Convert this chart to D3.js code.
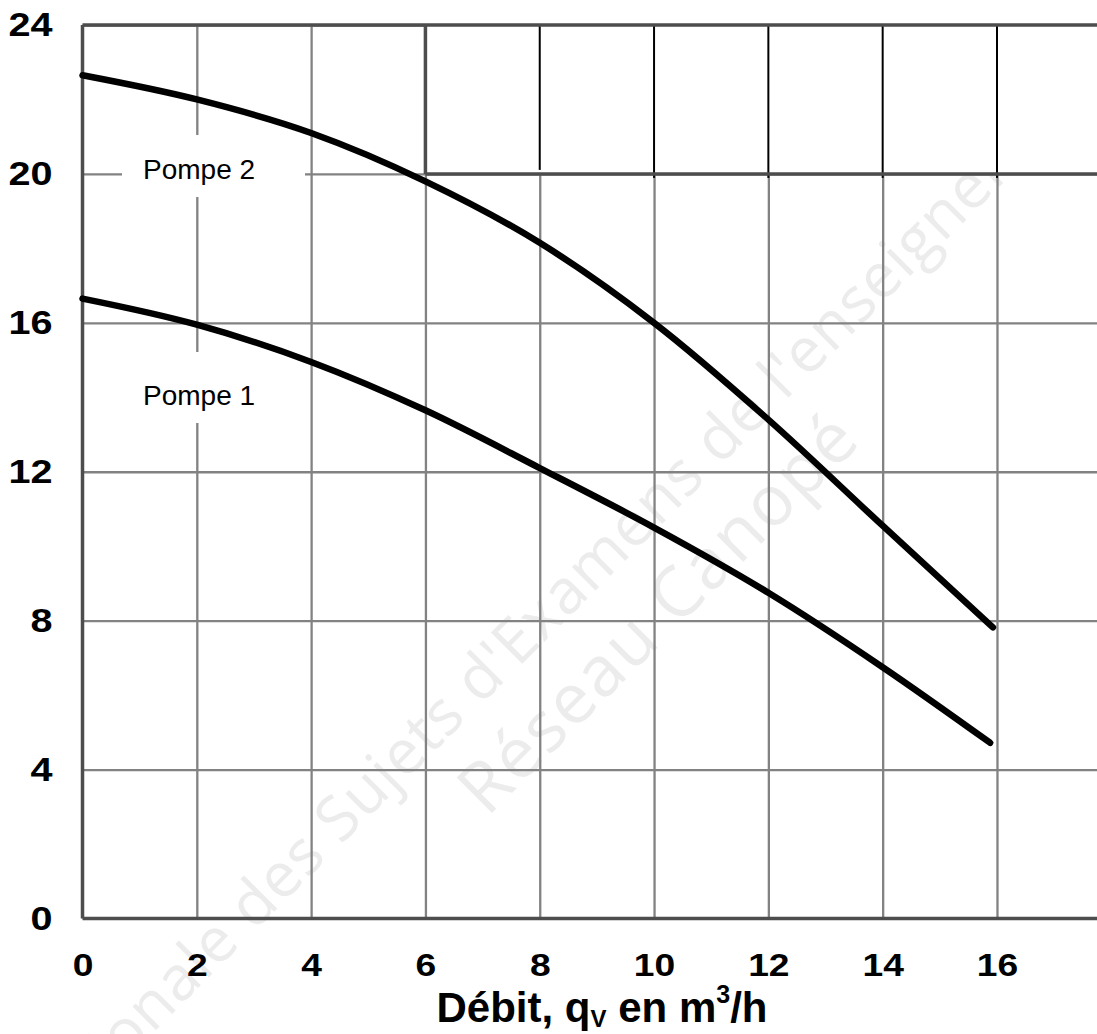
<!DOCTYPE html>
<html>
<head>
<meta charset="utf-8">
<script src="https://cdn.jsdelivr.net/npm/d3@7"></script>
<style>
  body { margin: 0; background: #fff; }
  svg { display: block; }
</style>
</head>
<body>
<svg id="chart"></svg>
<script>
// valeurs
var xTicks = [0, 2, 4, 6, 8, 10, 12, 14, 16];
var yTicks = [0, 4, 8, 12, 16, 20, 24];
var pompe1Debit = [0, 2, 4, 6, 8, 10, 12, 14, 15.88];
var pompe1Hmt = [16.65, 15.95, 14.95, 13.65, 12.1, 10.5, 8.75, 6.75, 4.72];
var pompe2Debit = [0, 2, 4, 6, 8, 10, 12, 14, 15.93];
var pompe2Hmt = [22.65, 22.0, 21.1, 19.8, 18.15, 16.0, 13.4, 10.55, 7.82];
var seriesNames = ["Pompe 1", "Pompe 2"];
var blackTicks = [8, 10, 12, 14, 16]; // traits noirs du cadre en haut a droite
var watermark = ["Base Nationale des Sujets d'Examens de l'enseignement professionnel", "Réseau Canopé"];

var W = 1097, H = 1034;

var svg = d3.select("#chart").attr("width", W).attr("height", H);
svg.append("rect").attr("width", W).attr("height", H).attr("fill", "#fff");

var x = d3.scaleLinear().domain([0, 17.75]).range([82.5, W]);
var y = d3.scaleLinear().domain([0, 24]).range([918.5, 25]);

// filigrane
var wmPos = [[666, 520], [675, 630]];
var wmSize = [62, 70];
svg.append("g").selectAll("text")
  .data(watermark)
  .enter().append("text")
  .attr("transform", function (d, i) { return "translate(" + wmPos[i][0] + "," + wmPos[i][1] + ") rotate(-45)"; })
  .attr("text-anchor", "middle")
  .style("font-family", "'Open Sans', sans-serif")
  .style("font-size", function (d, i) { return wmSize[i] + "px"; })
  .style("letter-spacing", function (d, i) { return i ? "2px" : "1px"; })
  .attr("fill", "#ececec")
  .text(function (d) { return d; });

var gridColor = "#828282", darkColor = "#4d4d4d";

// grille verticale
var gx = svg.append("g")
  .attr("transform", "translate(0," + y(0) + ")")
  .call(d3.axisBottom(x).tickValues(xTicks.slice(1)).tickSize(-(y(0) - y(24))).tickFormat(""));
gx.select(".domain").remove();
gx.selectAll("line").attr("stroke", gridColor).attr("stroke-width", 2.3);

// grille horizontale
var gy = svg.append("g")
  .attr("transform", "translate(" + x(0) + ",0)")
  .call(d3.axisLeft(y).tickValues(yTicks.slice(1)).tickSize(-(W - x(0))).tickFormat(""));
gy.select(".domain").remove();
gy.selectAll("line").attr("stroke", gridColor).attr("stroke-width", 2.3);

// cadre du haut (entre 20 et 24, a partir de 6)
svg.append("rect")
  .attr("x", x(6)).attr("y", y(24))
  .attr("width", W - x(6)).attr("height", y(20) - y(24))
  .attr("fill", "#fff");

svg.append("g").selectAll("line")
  .data(blackTicks)
  .enter().append("line")
  .attr("x1", function (d) { return x(d); })
  .attr("x2", function (d) { return x(d); })
  .attr("y1", y(24))
  .attr("y2", function (d, i) { return i == 0 ? y(20) - 4 : y(20) + 4; })
  .attr("stroke", "#000")
  .attr("stroke-width", 2);

var dark = svg.append("g").attr("stroke", darkColor).attr("stroke-width", 3.5);
dark.append("line").attr("x1", x(0)).attr("x2", W).attr("y1", y(24)).attr("y2", y(24));
dark.append("line").attr("x1", x(6)).attr("x2", W).attr("y1", y(20)).attr("y2", y(20));
dark.append("line").attr("x1", x(6)).attr("x2", x(6)).attr("y1", y(24)).attr("y2", y(20));
dark.append("line").attr("x1", x(0)).attr("x2", x(0)).attr("y1", y(24)).attr("y2", y(0));
dark.append("line").attr("x1", x(0)).attr("x2", W).attr("y1", y(0)).attr("y2", y(0));

// etiquettes des courbes (cases blanches)
var labelBox = [
  { left: 125, top: 352, w: 175, h: 71, tx: 143, ty: 405 },
  { left: 122, top: 135, w: 183, h: 62, tx: 143, ty: 179 }
];
var lab = svg.append("g").selectAll("g")
  .data(seriesNames)
  .enter().append("g");
lab.append("rect")
  .attr("x", function (d, i) { return labelBox[i].left; })
  .attr("y", function (d, i) { return labelBox[i].top; })
  .attr("width", function (d, i) { return labelBox[i].w; })
  .attr("height", function (d, i) { return labelBox[i].h; })
  .attr("fill", "#fff");
lab.append("text")
  .attr("x", function (d, i) { return labelBox[i].tx; })
  .attr("y", function (d, i) { return labelBox[i].ty; })
  .style("font-family", "Arial, 'Liberation Sans', sans-serif")
  .style("font-size", "28px")
  .attr("fill", "#000")
  .text(function (d) { return d; });

// courbes
var line = d3.line()
  .x(function (d) { return x(d[0]); })
  .y(function (d) { return y(d[1]); })
  .curve(d3.curveMonotoneX);

var curves = [d3.zip(pompe1Debit, pompe1Hmt), d3.zip(pompe2Debit, pompe2Hmt)];
svg.append("g").selectAll("path")
  .data(curves)
  .enter().append("path")
  .attr("d", line)
  .attr("fill", "none")
  .attr("stroke", "#000")
  .attr("stroke-width", 6.5)
  .attr("stroke-linecap", "round");

// graduations
var tickFont = function (sel, size) {
  sel.attr("transform", "scale(1.2,1)")
    .style("font-family", "Arial, 'Liberation Sans', sans-serif")
    .style("font-size", size + "px")
    .style("font-weight", "bold")
    .attr("fill", "#000");
};

var yAx = svg.append("g")
  .attr("transform", "translate(" + x(0) + ",0)")
  .call(d3.axisLeft(y).tickValues(yTicks).tickSize(0).tickPadding(25));
yAx.select(".domain").remove();
yAx.selectAll("text").call(tickFont, 33);

var xAx = svg.append("g")
  .attr("transform", "translate(0," + y(0) + ")")
  .call(d3.axisBottom(x).tickValues(xTicks).tickSize(0).tickPadding(36));
xAx.select(".domain").remove();
xAx.selectAll("text").call(tickFont, 31);

// titre de l'axe
var title = svg.append("text")
  .attr("x", 602)
  .attr("y", 1022)
  .attr("text-anchor", "middle")
  .style("font-family", "Arial, 'Liberation Sans', sans-serif")
  .style("font-size", "42px")
  .style("font-weight", "bold")
  .attr("fill", "#000");
title.append("tspan").text("Débit, q");
title.append("tspan").attr("dy", 5).style("font-size", "24px").text("V");
title.append("tspan").attr("dy", -5).text(" en m");
title.append("tspan").attr("dy", -19).style("font-size", "25px").text("3");
title.append("tspan").attr("dy", 19).text("/h");
</script>
</body>
</html>
